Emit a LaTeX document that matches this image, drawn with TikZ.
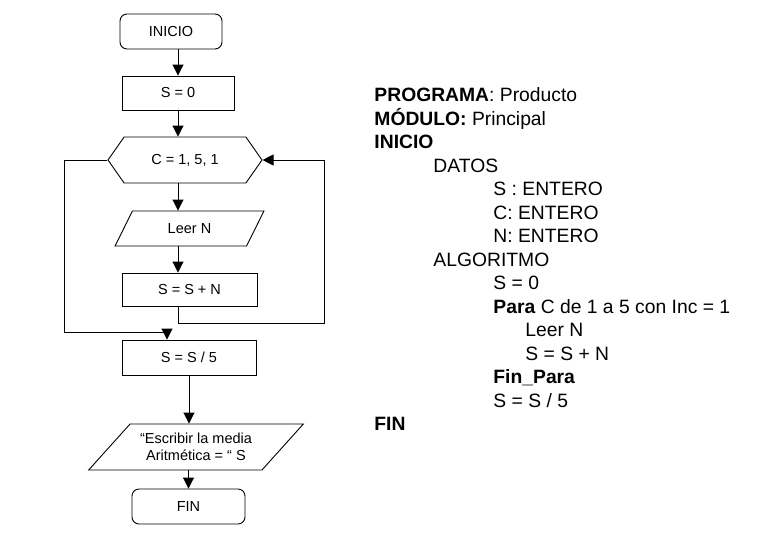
\documentclass[tikz,border=0pt]{standalone}
\usepackage{fontspec}
\setmainfont{Liberation Sans}
\usetikzlibrary{shapes.geometric,shapes.symbols,arrows.meta}

\begin{document}
\begin{tikzpicture}[x=1pt,y=-1pt,->,>={Triangle[length=11pt,width=11pt]},line width=0.9pt]
        \tikzset{caja/.style={shape=rectangle, draw, inner sep=0pt,
            font=\fontsize{14.5}{17}\selectfont}}
        \tikzset{extremo/.style={caja, rounded corners=7pt}}
        \tikzset{ciclo/.style={caja, shape=signal, signal to=west and east,
            signal pointer angle=110}}
        \tikzset{datos/.style={caja, shape=trapezium, trapezium stretches=true,
            align=center}}
        \useasboundingbox (0,0) rectangle (776,539);

        % diagrama de flujo
        \node[extremo, minimum width=102pt, minimum height=35pt] (ini) at (171,31.5) {INICIO};
        \node[caja, minimum width=112pt, minimum height=34pt] (s0) at (178,93) {S = 0};
        \node[ciclo, minimum width=154pt, minimum height=46pt] (c) at (185,160) {C = 1, 5, 1};
        \node[datos, trapezium left angle=56.7, trapezium right angle=123.3,
            minimum width=149pt, minimum height=35pt] (leer) at (189.5,228.5) {Leer N};
        \node[caja, minimum width=135pt, minimum height=33pt] (suma) at (189.5,289.5) {S = S + N};
        \node[caja, minimum width=134pt, minimum height=35pt] (media) at (189,357.5) {S = S / 5};
        \node[datos, trapezium left angle=38.2, trapezium right angle=141.8,
            minimum width=215pt, minimum height=46pt] (escr) at (196,447) {“Escribir la media\\Aritmética = “ S};
        \node[extremo, minimum width=113pt, minimum height=35pt] (fin) at (188.5,506.5) {FIN};

        \coordinate (der) at (324,323);
        \coordinate (izq) at (64,332);
        \coordinate (baja) at (167,332);

        \draw (ini.south -| s0) -- (s0.north);
        \draw (s0.south) -- (s0.south |- c.north);
        \draw (c.south -| s0) -- (leer.north -| s0);
        \draw (leer.south -| s0) -- (suma.north -| s0);
        \draw (suma.south -| s0) |- (der) |- (c.east);
        \draw (c.west) -| (izq) -- (baja) -- (baja |- media.north);
        \draw (media.south) -- (media.south |- escr.north);
        \draw (escr.south -| fin) -- (fin.north);

        % pseudocodigo
        \node[anchor=north west, inner sep=0pt, align=left,
            font=\fontsize{19.3}{23.5}\selectfont] (prog) at (374,87.4) {%
          \textbf{PROGRAMA}: Producto\\
          \textbf{MÓDULO:} Principal\\
          \textbf{INICIO}\\
          \hspace*{59pt}DATOS\\
          \hspace*{119pt}S : ENTERO\\
          \hspace*{119pt}C: ENTERO\\
          \hspace*{119pt}N: ENTERO\\
          \hspace*{59pt}ALGORITMO\\
          \hspace*{119pt}S = 0\\
          \hspace*{119pt}\textbf{Para} C de 1 a 5 con Inc = 1\\
          \hspace*{151pt}Leer N\\
          \hspace*{151pt}S = S + N\\
          \hspace*{119pt}\textbf{Fin\_Para}\\
          \hspace*{119pt}S = S / 5\\
          \textbf{FIN}};
\end{tikzpicture}
\end{document}
